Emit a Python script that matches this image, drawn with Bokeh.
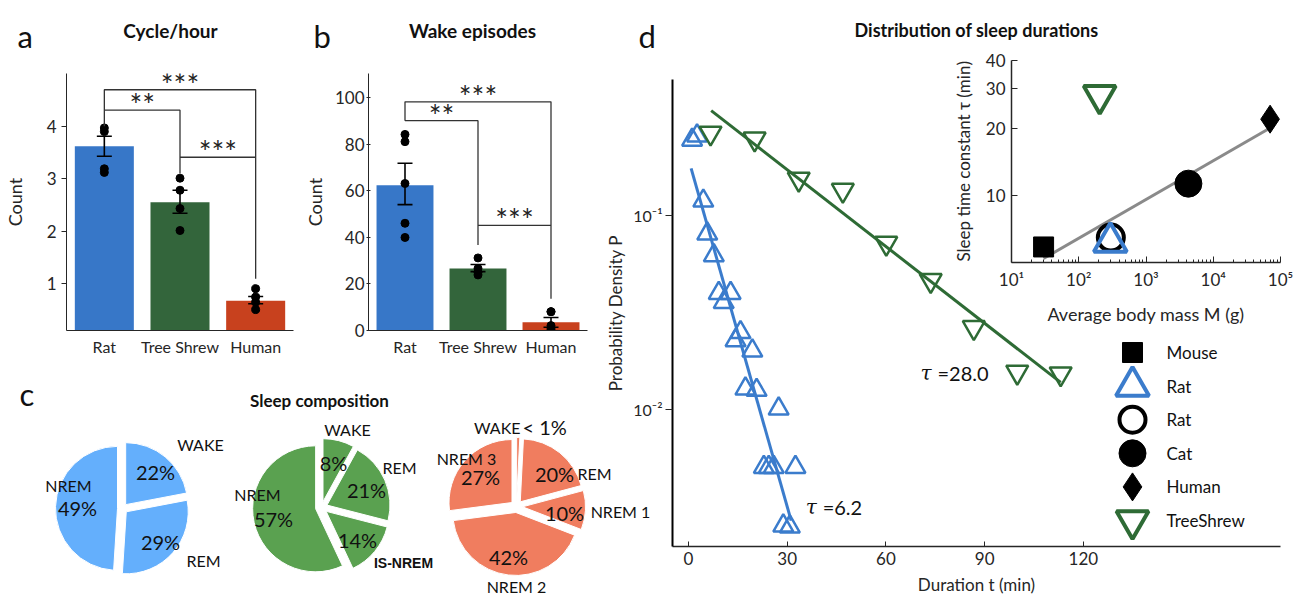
import math
from bokeh.plotting import figure
from bokeh.layouts import row, column
from bokeh.models import (Range1d, FixedTicker, Whisker, TeeHead, ColumnDataSource, Spacer)
from bokeh.core.properties import value
from bokeh.embed import file_html
from bokeh.resources import INLINE

FONT = "Lato"
INK = "#262626"
W, H = 1293, 597

# ---------------- data : panels a / b ----------------
categories = ["Rat", "Tree Shrew", "Human"]
bar_colors = ["#3777c8", "#33653b", "#c8411e"]

cycle_mean = [3.62, 2.55, 0.67]
cycle_low = [3.43, 2.34, 0.61]
cycle_high = [3.81, 2.78, 0.75]
cycle_points = [[3.97, 3.90, 3.19, 3.12], [3.01, 2.78, 2.43, 2.01], [0.90, 0.74, 0.64, 0.50]]
cycle_yticks = [1, 2, 3, 4]

wake_mean = [62.5, 26.7, 3.5]
wake_low = [54.1, 25.3, 1.4]
wake_high = [71.9, 28.4, 5.6]
wake_points = [[84.3, 81.2, 63.2, 46.1, 40.0], [31.2, 26.7, 25.0, 23.9], [8.1, 8.1, 2.1, 0.7, 0.0]]
wake_yticks = [0, 20, 40, 60, 80, 100]

# significance brackets: (group i, group j, label, level, left leg bottom, right leg bottom)
cycle_sig = [(0, 1, "**", 4.31, 4.31, 3.10), (0, 2, "***", 4.70, 4.00, 1.09), (1, 2, "***", 3.41, 3.41, 3.41)]
wake_sig = [(0, 1, "**", 90.2, 90.2, 36.8), (0, 2, "***", 98.3, 90.2, 13.6), (1, 2, "***", 45.2, 45.2, 45.2)]

# ---------------- data : panel c ----------------
pie_rat_names = ["WAKE", "REM", "NREM"]
pie_rat_pct = [22, 29, 49]
pie_shrew_names = ["WAKE", "REM", "IS-NREM", "NREM"]
pie_shrew_pct = [8, 21, 14, 57]
pie_human_names = ["WAKE", "REM", "NREM 1", "NREM 2", "NREM 3"]
pie_human_pct = [0.8, 20, 10, 42, 27]
pie_human_pct_text = ["< 1%", "20%", "10%", "42%", "27%"]
pie_colors = ["#64affc", "#5aa150", "#f07d5f"]

# ---------------- data : panel d ----------------
rat_t = [1.1, 2.6, 4.5, 5.7, 7.7, 9.2, 12.8, 10.7, 15.8, 14.3, 19.4, 17.3, 20.7, 27.4,
         22.9, 24.4, 25.9, 32.5, 28.8, 30.8]
rat_P = [0.245, 0.258, 0.119, 0.0805, 0.0622, 0.0398, 0.0398, 0.0357, 0.025, 0.0227, 0.0201,
         0.0128, 0.0126, 0.0101, 0.00505, 0.00505, 0.00505, 0.00505, 0.00252, 0.00249]
rat_fit_t = [0.8, 31.2]
rat_fit_P = [0.175, 0.00268]
rat_tau = 6.2

shrew_t = [6.7, 20.1, 33.5, 46.9, 60.1, 73.6, 86.7, 99.9, 113.1]
shrew_P = [0.266, 0.248, 0.154, 0.135, 0.072, 0.0463, 0.0265, 0.0156, 0.0153]
shrew_fit_t = [6.9, 113.1]
shrew_fit_P = [0.347, 0.0138]
shrew_tau = 28.0

d_xticks = [0, 30, 60, 90, 120]

# inset
inset_species = ["Mouse", "Rat", "Rat", "Cat", "Human", "TreeShrew"]
inset_mass = [30, 295, 300, 4270, 70000, 205]
inset_tau = [5.9, 6.2, 6.5, 11.3, 21.9, 28.0]
inset_fit_mass = [30, 70000]
inset_fit_tau = [5.24, 20.0]

BLUE = "#3b7ccc"
GREEN = "#2e6b35"

marker_styles = [
    dict(marker="square", size=20, fill_color="black", line_color="black", line_width=1),
    dict(marker="triangle", size=33, fill_color=None, line_color=BLUE, line_width=4),
    dict(marker="circle", size=26, fill_color=None, line_color="black", line_width=4),
    dict(marker="circle", size=27, fill_color="black", line_color="black", line_width=1),
    dict(marker="diamond", size=28, fill_color="black", line_color="black", line_width=1),
    dict(marker="inverted_triangle", size=32, fill_color=None, line_color=GREEN, line_width=4),
]


def style_axis(ax, tick_size="17px", label_size="18px"):
    ax.axis_line_color = INK
    ax.major_tick_line_color = INK
    ax.minor_tick_line_color = None
    ax.major_label_text_font = FONT
    ax.major_label_text_font_size = tick_size
    ax.major_label_text_color = INK
    ax.axis_label_text_font = FONT
    ax.axis_label_text_font_size = label_size
    ax.axis_label_text_font_style = "normal"
    ax.axis_label_text_color = INK


def bar_panel(means, low, high, points, yr, yticks, sig, borders, tick_in, tick_out,
              tick_standoff, label_standoff):
    left, right, top, bottom = borders
    p = figure(width=300, height=370, x_range=Range1d(-0.5, 2.5), y_range=Range1d(*yr),
               title=None, output_backend="svg", toolbar_location=None,
               min_border_left=left, min_border_right=right,
               min_border_top=top, min_border_bottom=bottom)
    p.outline_line_color = None
    p.grid.visible = False
    xs = list(range(len(categories)))
    src = ColumnDataSource(dict(x=xs, top=means, color=bar_colors, lo=low, hi=high))
    p.vbar(x="x", top="top", bottom=0, width=0.78, fill_color="color", line_color=None, source=src)
    wh = Whisker(base="x", lower="lo", upper="hi", source=src, line_color="black", line_width=1.6,
                 upper_head=TeeHead(size=15, line_color="black", line_width=1.6),
                 lower_head=TeeHead(size=15, line_color="black", line_width=1.6),
                 level="annotation")
    p.add_layout(wh)
    for i, vals in enumerate(points):
        p.scatter([xs[i]] * len(vals), vals, size=8, color="black")
    for (i, j, lab, lev, l0, l1) in sig:
        p.line([xs[i], xs[i], xs[j], xs[j]], [l0, lev, lev, l1], line_color="#333333", line_width=1.3)
        p.text([(xs[i] + xs[j]) / 2], [lev], text=[lab], text_align="center",
               text_baseline="alphabetic", y_offset=-6, text_font=value(FONT),
               text_font_size="30px", text_color="#222222")
    p.xaxis.ticker = FixedTicker(ticks=xs)
    p.xaxis.major_label_overrides = {i: c for i, c in enumerate(categories)}
    p.yaxis.ticker = FixedTicker(ticks=yticks)
    p.yaxis.axis_label = "Count"
    style_axis(p.xaxis[0], tick_size="16px")
    style_axis(p.yaxis[0], tick_size="17px", label_size="18px")
    p.xaxis.major_tick_line_color = None
    p.xaxis.major_label_standoff = 0
    p.yaxis.major_tick_in = tick_in
    p.yaxis.major_tick_out = tick_out
    p.yaxis.major_label_standoff = tick_standoff
    p.yaxis.axis_label_standoff = label_standoff
    return p


pa = bar_panel(cycle_mean, cycle_low, cycle_high, cycle_points, (0.1, 5.01),
               cycle_yticks, cycle_sig, (64, 7, 73, 40), 0, 5, 5, 18)
pb = bar_panel(wake_mean, wake_low, wake_high, wake_points, (0, 110.5),
               wake_yticks, wake_sig, (57, 13, 68, 40), 2, 2, 2, 6)

# ---------------- panel d ----------------
pdd = figure(width=693, height=597, x_range=Range1d(-4.86, 179.9), y_range=Range1d(0.00197, 0.502),
             y_axis_type="log", title=None, output_backend="svg", toolbar_location=None,
             min_border_left=72, min_border_right=13, min_border_top=79, min_border_bottom=51)
pdd.grid.visible = False
pdd.outline_line_color = None
pdd.line(rat_fit_t, rat_fit_P, line_color=BLUE, line_width=3)
pdd.scatter(rat_t, rat_P, marker="triangle", size=20, fill_color=None, line_color=BLUE, line_width=2.5)
pdd.line(shrew_fit_t, shrew_fit_P, line_color=GREEN, line_width=3)
pdd.scatter(shrew_t, shrew_P, marker="inverted_triangle", size=22, fill_color=None,
            line_color=GREEN, line_width=2.5)
for (tx, ty, tau) in [(35.6, 0.00313, rat_tau), (70.5, 0.0155, shrew_tau)]:
    pdd.text([tx], [ty], text=["\u03c4"], text_align="left", text_baseline="middle",
             text_font=value("DejaVu Serif"), text_font_style="italic", text_font_size="20px",
             text_color="#111111")
    pdd.text([tx], [ty], text=["=%.1f" % tau], text_align="left", text_baseline="middle",
             x_offset=17, text_font=value(FONT), text_font_size="20px", text_color="#111111")
pdd.xaxis.ticker = FixedTicker(ticks=d_xticks)
pdd.yaxis.ticker = FixedTicker(ticks=[0.01, 0.1])
pdd.yaxis.major_label_overrides = {0.01: "10\u207b\u00b2", 0.1: "10\u207b\u00b9"}
style_axis(pdd.xaxis[0], tick_size="17px", label_size="17px")
style_axis(pdd.yaxis[0], tick_size="16px", label_size="17px")
pdd.xaxis.axis_label = "Duration t (min)"
pdd.yaxis.axis_label = "Probability Density P"
pdd.xaxis.major_tick_in = 5
pdd.xaxis.major_tick_out = 0
pdd.xaxis.major_label_standoff = 5
pdd.xaxis.axis_label_standoff = 6
pdd.xaxis.axis_line_width = 1.5
pdd.yaxis.axis_line_width = 2
pdd.yaxis.axis_line_color = "black"
pdd.yaxis.major_tick_in = 0
pdd.yaxis.major_tick_out = 7
pdd.yaxis.major_label_standoff = 3
pdd.yaxis.axis_label_standoff = 4

# ---------------- inset of d ----------------
pin = figure(width=353, height=290, x_axis_type="log", y_axis_type="log",
             x_range=Range1d(10, 1e5), y_range=Range1d(5.03, 40), title=None,
             output_backend="svg", toolbar_location=None,
             min_border_left=71, min_border_right=13, min_border_top=20, min_border_bottom=68)
pin.grid.visible = False
pin.outline_line_color = None
pin.border_fill_color = None
pin.background_fill_color = None
pin.line(inset_fit_mass, inset_fit_tau, line_color="#8a8a8a", line_width=3)
for k in [0, 2, 1, 3, 4, 5]:
    pin.scatter([inset_mass[k]], [inset_tau[k]], **marker_styles[k])
pin.xaxis.ticker = FixedTicker(ticks=[10, 100, 1000, 10000, 100000],
                               minor_ticks=[k * 10 ** e for e in range(1, 5) for k in range(2, 10)])
pin.xaxis.major_label_overrides = {10: "10\u00b9", 100: "10\u00b2", 1000: "10\u00b3",
                                   10000: "10\u2074", 100000: "10\u2075"}
pin.yaxis.ticker = FixedTicker(ticks=[10, 20, 30, 40])
pin.yaxis.major_label_overrides = {10: "10", 20: "20", 30: "30", 40: "40"}
style_axis(pin.xaxis[0], tick_size="17px", label_size="18px")
style_axis(pin.yaxis[0], tick_size="17px", label_size="17px")
pin.xaxis.axis_label = "Average body mass M (g)"
pin.yaxis.axis_label = "Sleep time constant \u03c4 (min)"
pin.xaxis.minor_tick_line_color = INK
pin.xaxis.major_tick_in = 6
pin.xaxis.major_tick_out = 0
pin.xaxis.minor_tick_in = 3
pin.xaxis.minor_tick_out = 0
pin.xaxis.major_label_standoff = 6
pin.xaxis.axis_label_standoff = 10
pin.yaxis.major_tick_in = 6
pin.yaxis.major_tick_out = 0
pin.yaxis.major_label_standoff = 6
pin.yaxis.axis_label_standoff = 9
pin.xaxis.axis_line_width = 1.5
pin.yaxis.axis_line_width = 1.5

inset_col = column(Spacer(width=353, height=40), pin, margin=(0, 0, 0, -353))

# ---------------- page overlay: panel c, titles, panel letters, inset legend ----------------
ov = figure(width=W, height=H, x_range=Range1d(0, W), y_range=Range1d(0, H), title=None,
            output_backend="svg", toolbar_location=None, min_border=0,
            x_axis_location=None, y_axis_location=None, margin=(-H, 0, 0, 0))
ov.grid.visible = False
ov.outline_line_color = None
ov.border_fill_color = None
ov.background_fill_color = None


def Y(page_y):
    return H - page_y


def txt(x, page_y, s, size="16px", align="center", baseline="middle", bold=False,
        font=FONT, color="#111111"):
    ov.text([x], [Y(page_y)], text=[s], text_align=align, text_baseline=baseline,
            text_font=value(font), text_font_size=size,
            text_font_style="bold" if bold else "normal", text_color=color)


def draw_pie(cx, cy_page, r, pcts, color, names, name_pos, pct_text, pct_pos,
             name_align=None, pct_align=None, name_bold=None, explode=6):
    cy = Y(cy_page)
    total = float(sum(pcts))
    cum = 0.0
    xs, ys, st, en = [], [], [], []
    for v in pcts:
        f0 = cum / total
        f1 = (cum + v) / total
        cum += v
        mid = math.pi / 2 - math.pi * (f0 + f1)
        xs.append(cx + explode * math.cos(mid))
        ys.append(cy + explode * math.sin(mid))
        st.append(math.pi / 2 - 2 * math.pi * f1)
        en.append(math.pi / 2 - 2 * math.pi * f0)
    ov.wedge(x=xs, y=ys, radius=r, start_angle=st, end_angle=en, fill_color=color,
             line_color="white", line_width=1)
    n = len(names)
    name_align = name_align or ["center"] * n
    pct_align = pct_align or ["center"] * n
    name_bold = name_bold or [False] * n
    for k in range(n):
        dx, dy = name_pos[k]
        if name_bold[k]:
            txt(cx + dx, cy_page + dy, names[k], size="14px", align=name_align[k], bold=True,
                font="Liberation Sans")
        else:
            txt(cx + dx, cy_page + dy, names[k], size="16px", align=name_align[k])
        dx, dy = pct_pos[k]
        txt(cx + dx, cy_page + dy, pct_text[k], size="20px", align=pct_align[k])


draw_pie(122, 508, 62, pie_rat_pct, pie_colors[0], pie_rat_names,
         [(78, -64), (81, 52), (-54, -23)],
         ["%d%%" % v for v in pie_rat_pct], [(33, -37), (38, 33), (-45, -1)], explode=5)
draw_pie(321, 507, 63, pie_shrew_pct, pie_colors[1], pie_shrew_names,
         [(26, -78), (78, -40), (82, 55), (-64, -13)],
         ["%d%%" % v for v in pie_shrew_pct], [(12, -45), (45, -18), (36, 32), (-48, 11)],
         name_bold=[False, False, True, False])
draw_pie(516, 506, 63, pie_human_pct, pie_colors[2], pie_human_names,
         [(4, -79), (78, -33), (104, 5), (0, 80), (-50, -48)],
         pie_human_pct_text, [(6, -80), (38, -33), (48, 6), (-8, 50), (-36, -30)],
         name_align=["right", "center", "center", "center", "center"],
         pct_align=["left", "center", "center", "center", "center"])

# titles
txt(170, 30, "Cycle/hour", size="19px", bold=True)
txt(472, 30, "Wake episodes", size="19px", bold=True)
txt(319, 400, "Sleep composition", size="17px", bold=True)
txt(976, 29, "Distribution of sleep durations", size="18px", bold=True)

# panel letters
for (lx, ly, s) in [(17, 35, "a"), (313, 35, "b"), (19, 393, "c"), (638, 35, "d")]:
    txt(lx, ly, s, size="31px", align="left", baseline="alphabetic")

# legend of the inset (one key per inset point)
LEG_X, LEG_TOP, LEG_PITCH = 1132, 352, 33.6
for k, name in enumerate(inset_species):
    ov.scatter([LEG_X], [Y(LEG_TOP + k * LEG_PITCH)], **marker_styles[k])
    txt(LEG_X + 34, LEG_TOP + k * LEG_PITCH, name, size="17px", align="left")

left_col = column(row(pa, pb), Spacer(width=600, height=227))
main = row(left_col, pdd, inset_col)
page = column(main, ov)

open("out.html", "w").write(file_html(page, INLINE))
